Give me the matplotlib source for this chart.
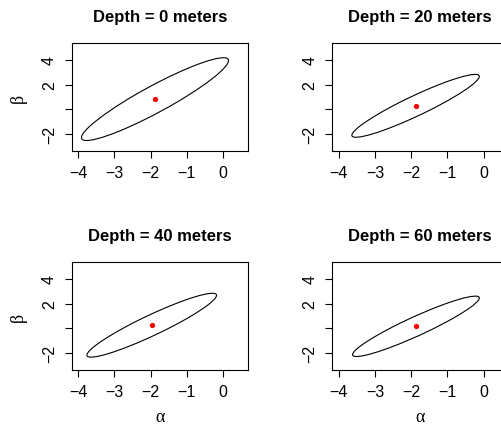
import numpy as np
import matplotlib
matplotlib.use("Agg")
import matplotlib.pyplot as plt
from matplotlib.patches import Ellipse

plt.rcParams['font.family'] = ['Liberation Sans', 'DejaVu Sans']

# Data
depths = [0, 20, 40, 60]
center_alpha = [-1.88, -1.88, -1.97, -1.87]
center_beta = [0.83, 0.29, 0.26, 0.17]
half_alpha = [2.03, 1.76, 1.79, 1.75]   # half-extent of the region along alpha
half_beta = [3.33, 2.53, 2.57, 2.43]    # half-extent along beta
corr = [0.93, 0.935, 0.935, 0.937]

xlim = (-4, 0.5)
ylim = (-3, 5)
xticks = [-4, -3, -2, -1, 0]
yticks = [-2, 0, 2, 4]
ytick_labels = ["\u22122", "", "2", "4"]

W, H = 501, 427
fig = plt.figure(figsize=(W / 100, H / 100), dpi=100)

# panel boxes in pixels: (left, top)
box_w, box_h = 176, 107.4
lefts = [71.7, 332.3]
tops = [44.3, 263.3]

def expand(lim):
    d = (lim[1] - lim[0]) * 0.04
    return (lim[0] - d, lim[1] + d)

for i, depth in enumerate(depths):
    r, c = divmod(i, 2)
    L, T = lefts[c], tops[r]
    ax = fig.add_axes([L / W, 1 - (T + box_h) / H, box_w / W, box_h / H])
    ax.set_xlim(*expand(xlim))
    ax.set_ylim(*expand(ylim))
    sa, sb, rho = half_alpha[i], half_beta[i], corr[i]
    S = np.array([[sa * sa, rho * sa * sb], [rho * sa * sb, sb * sb]])
    vals, vecs = np.linalg.eigh(S)
    ang = np.degrees(np.arctan2(vecs[1, 1], vecs[0, 1]))
    e = Ellipse((center_alpha[i], center_beta[i]), 2 * np.sqrt(vals[1]), 2 * np.sqrt(vals[0]),
                angle=ang, fill=False, edgecolor='black', linewidth=0.8)
    ax.add_patch(e)
    ax.plot([center_alpha[i]], [center_beta[i]], 'o', color='red', markersize=3.8,
            markeredgewidth=0)
    ax.set_xticks(xticks)
    ax.set_xticklabels([str(t).replace('-', '\u2212') for t in xticks])
    ax.set_yticks(yticks)
    ax.set_yticklabels(ytick_labels, rotation=90, va='center')
    ax.tick_params(axis='both', length=5, width=0.8, labelsize=11.5, color='black')
    ax.tick_params(axis='x', pad=5)
    ax.tick_params(axis='y', pad=5.5)
    for s in ax.spines.values():
        s.set_linewidth(0.8)
    ax.set_title(f"Depth = {depth} meters", fontsize=12, fontweight='bold', pad=16)
    if c == 0:
        ax.set_ylabel("\u03b2", fontsize=13, family='Liberation Serif', labelpad=11)
    if r == 1:
        ax.set_xlabel("\u03b1", fontsize=13, family='Liberation Serif', labelpad=7)

fig.savefig("out.png", dpi=100)
